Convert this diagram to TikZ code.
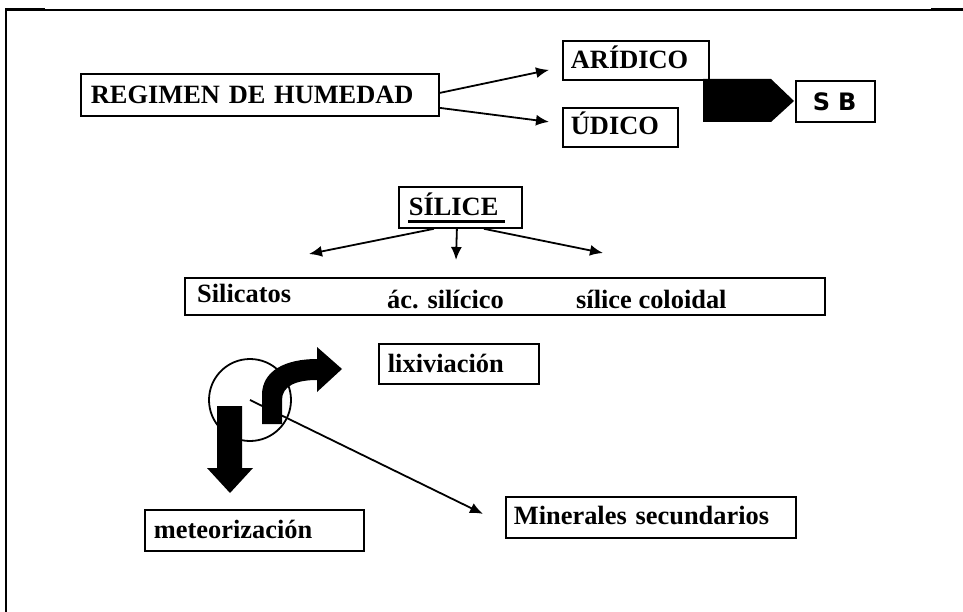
\documentclass[tikz,border=0pt]{standalone}
\usepackage{fontspec}
\setmainfont{Liberation Serif}
\newfontfamily\sbfont{DejaVu Sans}
\usetikzlibrary{arrows.meta,calc}
\newcommand\tb{\fontsize{26.4}{30}\selectfont\bfseries}
\begin{document}
\begin{tikzpicture}[x=1pt,y=-1pt,
  box/.style={draw, line width=1.8pt, anchor=north west, inner ysep=0pt, align=left, text depth=0pt, font=\tb},
  arr/.style={line width=1.8pt, -{Latex[length=13pt,width=11pt]}},
  lab/.style={inner sep=0pt, anchor=base west, font=\tb}]
\useasboundingbox (0,0) rectangle (963,612);
% frame
\draw[line width=1.6pt] (5,10) -- (963,10);
\draw[line width=3pt] (5,10) -- (45,10);
\draw[line width=3pt] (931,10) -- (963,10);
\draw[line width=2pt] (6,10) -- (6,612);
% top part
\node[box, minimum width=358pt, minimum height=42pt, inner xsep=10pt, text width=338pt, text height=18pt] (reg) at (80,73) {REGIMEN DE HUMEDAD};
\node[box, minimum width=146pt, minimum height=39pt, inner xsep=8pt, text width=130pt, text height=16pt] (ari) at (562,40) {ARÍDICO};
\node[box, minimum width=115pt, minimum height=39pt, inner xsep=8pt, text width=99pt, text height=15pt] (udi) at (562,107) {ÚDICO};
\node[box, minimum width=79pt, minimum height=41pt, inner xsep=17pt, text width=45pt, text height=19pt, font=\sbfont\bfseries\fontsize{24}{28}\selectfont] (sb) at (795,80) {S B};
\fill (703,79) -- (771,79) -- (794,101) -- (771,122) -- (703,122) -- cycle;
\draw[arr] ([yshift=2pt]reg.east) -- ([xshift=-13pt,yshift=-9.5pt]ari.west);
\draw[arr] ([yshift=-13pt]reg.east) -- ([xshift=-13pt,yshift=5.5pt]udi.west);
% silice
\node[box, minimum width=123pt, minimum height=41pt, inner xsep=10pt, text width=103pt, text height=17pt] (sil) at (398,186) {SÍLICE};
\draw[line width=3pt] ([xshift=10pt,yshift=7pt]sil.south west) -- ([xshift=107pt,yshift=7pt]sil.south west);
\coordinate (s1) at (309,254);
\coordinate (s2) at (456,260);
\coordinate (s3) at (603,253);
\draw[arr] ([xshift=-26.5pt]sil.south) -- (s1);
\draw[arr] ([xshift=-3.5pt]sil.south) -- (s2);
\draw[arr] ([xshift=23.5pt]sil.south) -- (s3);
\node[box, minimum width=640pt, minimum height=37pt] (sbox) at (184,277) {};
\node[lab] (t1) at (197,302) {Silicatos};
\node[lab] (t2) at (387,308) {ác. silícico};
\node[lab] (t3) at (576,308) {sílice coloidal};
% lower part
\node[box, minimum width=160pt, minimum height=40pt, inner xsep=9pt, text width=142pt, text height=18pt] (lix) at (378,343) {lixiviación};
\node[box, minimum width=219pt, minimum height=41pt, inner xsep=9pt, text width=201pt, text height=17pt] (met) at (144,509) {meteorización};
\node[box, minimum width=290pt, minimum height=41pt, inner xsep=8pt, text width=274pt, text height=15pt] (min) at (505,496) {Minerales secundarios};
\node[draw, circle, minimum size=82pt, inner sep=0pt, line width=1.8pt] (circ) at (250,400) {};
\draw[arr] (circ.center) -- ([xshift=-22pt,yshift=3.5pt]min.west);
\fill (217,406) -- (242,406) -- (242,468) -- (253,468) -- (230,493) -- (207,468) -- (217,468) -- cycle;
\fill (262,424) -- (262,395) .. controls (262,371) and (285,359) .. (317,359) -- (317,347) -- (342,369) -- (317,392) -- (317,380) .. controls (296,380) and (282,386) .. (282,400) -- (282,424) -- cycle;
\end{tikzpicture}
\end{document}
